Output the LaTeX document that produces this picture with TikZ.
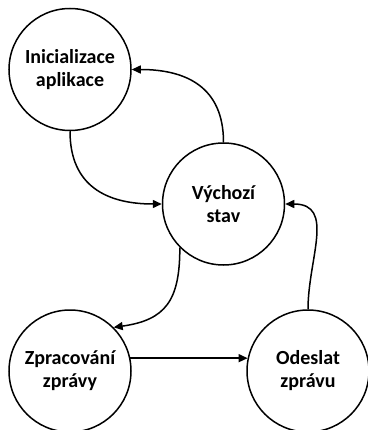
\documentclass[tikz,border=0pt]{standalone}
\usepackage{fontspec}
\setmainfont{Carlito}
\usetikzlibrary{positioning,arrows.meta}

\tikzset{
  state/.style={circle, draw, line width=1.5pt, minimum size=122pt, inner sep=0pt,
    align=center, font=\fontsize{20}{23}\selectfont\bfseries},
  flow/.style={line width=1.5pt, -{Triangle[length=9pt,width=8pt]}}
}

\begin{document}
\begin{tikzpicture}[x=1pt,y=-1pt,on grid]
\useasboundingbox (0,0) rectangle (367,430);

\node[state] (s1) at (70,69.5) {Inicializace\\aplikace};
\node[state, below right=134.5pt and 153.5pt of s1] (s2) {Výchozí\\stav};
\node[state, below=301.5pt of s1] (s3) {Zpracování\\zprávy};
\node[state, right=238pt of s3] (s4) {Odeslat\\zprávu};

\draw[flow] (s2.north) to[out=90, in=0, looseness=1.2] (s1.east);
\draw[flow] (s1.south) to[out=-90, in=180, looseness=1.2] (s2.west);
\draw[flow] (s2.south west) to[out=-90, in=8, looseness=1.3] (s3.north east);
\draw[flow] (s3.12) -- (s4.168);
\draw[flow] (s4.north) to[out=90, in=0, looseness=1.2] (s2.east);
\end{tikzpicture}
\end{document}
